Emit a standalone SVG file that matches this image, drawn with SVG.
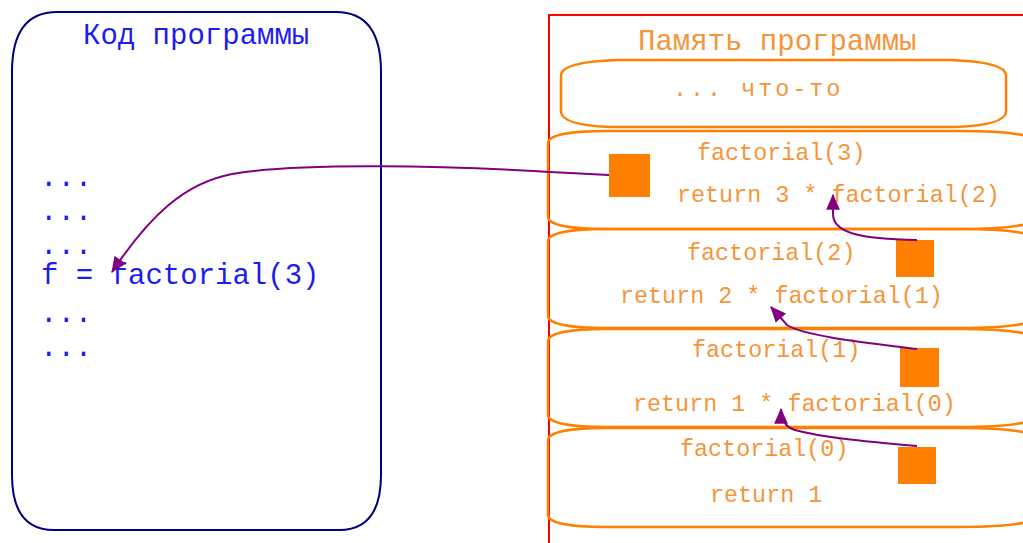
<svg xmlns="http://www.w3.org/2000/svg" width="1023" height="543" viewBox="0 0 1023 543">
<style>
.code{font-family:"Liberation Mono","DejaVu Sans Mono",monospace;font-size:29px;fill:#1c1cf0}
.mem{font-family:"Liberation Mono","DejaVu Sans Mono",monospace;fill:#f5953a}
.t29{font-size:29px}
.t23{font-size:23.4px}
.sp{letter-spacing:3px}
.frame{fill:none;stroke:#ff8000;stroke-width:2.5}
.sq{fill:#ff8000}
.conn{fill:none;stroke:#800080;stroke-width:2}
</style>
<defs>
<marker id="arr" viewBox="0 0 14 12" refX="13" refY="6" markerWidth="8" markerHeight="7" markerUnits="strokeWidth" orient="auto">
<path d="M0,0 L14,6 L0,12 Z" fill="#800080"/>
</marker>
</defs>
<rect width="1023" height="543" fill="#ffffff"/>
<g id="code-box">
<path d="M57,12 L336,12 Q381,12 381,72 L381,475 Q381,530 339,530 L54,530 Q12,530 12,475 L12,72 Q12,12 57,12 Z" fill="none" stroke="#000080" stroke-width="2"/>
<text class="code" x="83" y="44">Код программы</text>
<text class="code" x="40" y="186">...</text>
<text class="code" x="40" y="220">...</text>
<text class="code" x="40" y="254">...</text>
<text class="code" x="41" y="284">f = factorial(3)</text>
<text class="code" x="40" y="322">...</text>
<text class="code" x="40" y="356">...</text>
</g>
<g id="memory">
<rect x="549" y="15" width="490" height="540" fill="none" stroke="#ff0000" stroke-width="2"/>
<text class="mem t29" x="638" y="50">Память программы</text>
</g>
<g id="something">
<path class="frame" d="M617,60 L950,60 Q1005,62 1006,75 L1006,112 Q1005,125 955,127 L610,127 Q562,125 561,112 L561,75 Q562,62 617,60 Z"/>
<text class="mem t23 sp" x="673" y="96">... что-то</text>
</g>
<g id="frame3">
<path class="frame" d="M607,131 L960,131 C1010,131 1040,135 1045,146 L1045,214 C1040,225 1010,229 960,229 L607,229 C570,229 548,225 548,217 L548,143 C548,135 570,131 607,131 Z"/>
<text class="mem t23" x="697" y="160">factorial(3)</text>
<text class="mem t23" x="677" y="202">return 3 * factorial(2)</text>
<rect class="sq" x="609" y="154" width="41" height="43"/>
</g>
<g id="frame2">
<path class="frame" d="M607,229 L960,229 C1010,229 1040,233 1045,244 L1045,313 C1040,324 1010,328 960,328 L607,328 C570,328 548,324 548,316 L548,241 C548,233 570,229 607,229 Z"/>
<text class="mem t23" x="687" y="260">factorial(2)</text>
<text class="mem t23" x="620" y="303">return 2 * factorial(1)</text>
<rect class="sq" x="896" y="240" width="38" height="37"/>
</g>
<g id="frame1">
<path class="frame" d="M607,329 L960,329 C1010,329 1040,333 1045,344 L1045,412 C1040,423 1010,427 960,427 L607,427 C570,427 548,423 548,415 L548,341 C548,333 570,329 607,329 Z"/>
<text class="mem t23" x="692" y="357">factorial(1)</text>
<text class="mem t23" x="633" y="411">return 1 * factorial(0)</text>
<rect class="sq" x="900" y="348" width="39" height="39"/>
</g>
<g id="frame0">
<path class="frame" d="M607,428 L960,428 C1010,428 1040,432 1045,443 L1045,512 C1040,523 1010,527 960,527 L607,527 C570,527 548,523 548,515 L548,440 C548,432 570,428 607,428 Z"/>
<text class="mem t23" x="680" y="456">factorial(0)</text>
<text class="mem t23" x="710" y="502">return 1</text>
<rect class="sq" x="898" y="447" width="38" height="37"/>
</g>
<g id="connectors">
<path class="conn" marker-end="url(#arr)" d="M609,175 L550,172 C450,166 300,162 232,174 C185,183 150,215 112,272"/>
<path class="conn" marker-end="url(#arr)" d="M917,240 C860,239 833,233 833,214 L833,195"/>
<path class="conn" marker-end="url(#arr)" d="M917,349 C860,342 805,336 787,325 L771,307"/>
<path class="conn" marker-end="url(#arr)" d="M917,446 C860,441 820,437 795,430 C785,427 781,420 781,409"/>
</g>
</svg>
